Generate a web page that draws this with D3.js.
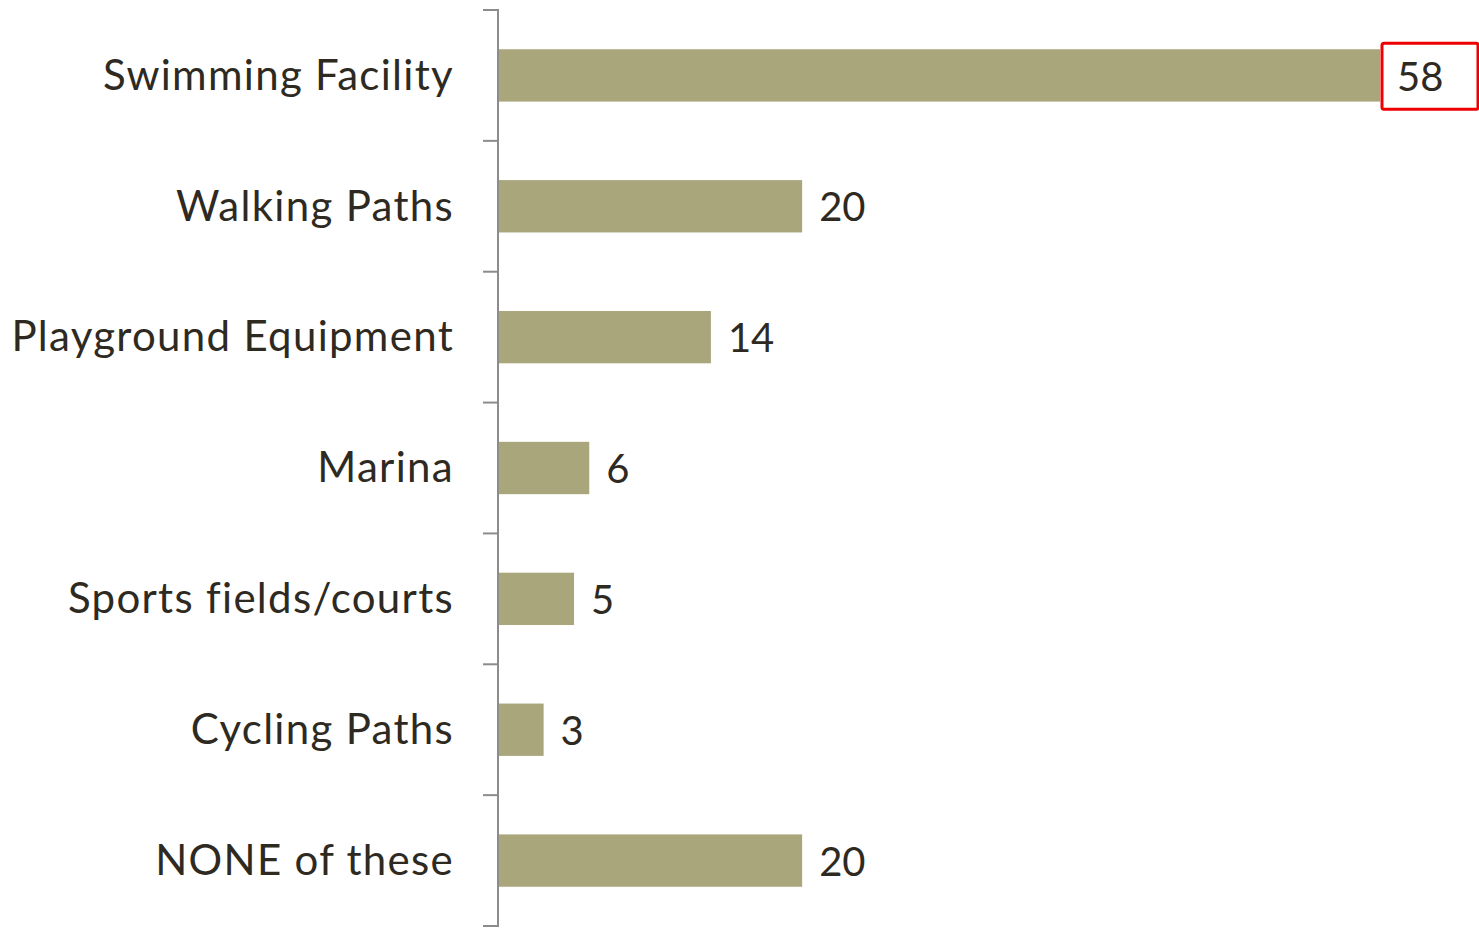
<!DOCTYPE html>
<html>
<head>
<meta charset="utf-8">
<script src="https://cdn.jsdelivr.net/npm/d3@7"></script>
<style>
  body { margin: 0; background: #fff; }
  text { font-family: Lato, "Open Sans", sans-serif; fill: #2e2a22; }
</style>
</head>
<body>
<div id="chart"></div>
<script>
const categories = ["Swimming Facility", "Walking Paths", "Playground Equipment", "Marina",
                    "Sports fields/courts", "Cycling Paths", "NONE of these"];
const values = [58, 20, 14, 6, 5, 3, 20];
const highlighted = "Swimming Facility";

const width = 1479,
    height = 929,
    margin = ({ top: 10, right: 0, bottom: 3, left: 498 });

const svg = d3.select("#chart")
    .append("svg")
    .attr("width", width)
    .attr("height", height);

const data = categories.map((c, i) => ({ name: c, value: values[i] }));

let x = d3.scaleLinear()
    .domain([0, 58])
    .range([margin.left, 1380]);

let y = d3.scaleBand()
    .domain(categories)
    .range([margin.top, height - margin.bottom])
    .paddingInner(0.6)
    .paddingOuter(0.3);

// bars
svg.selectAll("rect.bar")
    .data(data)
    .join("rect")
    .attr("class", "bar")
    .attr("x", x(0))
    .attr("y", d => y(d.name))
    .attr("width", d => x(d.value) - x(0))
    .attr("height", y.bandwidth())
    .attr("fill", "#a9a67c");

// axis with ticks at band boundaries
const bounds = categories.map(c => y(c) - y.step() * y.paddingInner() / 2);
bounds[0] = margin.top;
bounds.push(height - margin.bottom);

svg.append("line")
    .attr("x1", margin.left).attr("x2", margin.left)
    .attr("y1", margin.top).attr("y2", height - margin.bottom)
    .attr("stroke", "#8c8c8c").attr("stroke-width", 2);

svg.selectAll("line.tick")
    .data(bounds)
    .join("line")
    .attr("class", "tick")
    .attr("x1", margin.left - 15).attr("x2", margin.left + 1)
    .attr("y1", d => d).attr("y2", d => d)
    .attr("stroke", "#8c8c8c").attr("stroke-width", 2);

// category labels
svg.selectAll("text.cat")
    .data(data)
    .join("text")
    .attr("class", "cat")
    .attr("x", 454)
    .attr("y", d => y(d.name) + y.bandwidth() / 2)
    .attr("dy", "0.34em")
    .attr("text-anchor", "end")
    .style("font-size", "42px")
    .style("letter-spacing", "1.3px")
    .text(d => d.name);

// value labels
svg.selectAll("text.val")
    .data(data)
    .join("text")
    .attr("class", "val")
    .attr("x", d => x(d.value) + 17)
    .attr("y", d => y(d.name) + y.bandwidth() / 2)
    .attr("dy", "0.38em")
    .style("font-size", "40px")
    .text(d => d.value);

// red highlight box
const hd = data.find(d => d.name === highlighted);
svg.append("rect")
    .attr("x", x(hd.value) + 2)
    .attr("y", y(hd.name) - 6)
    .attr("width", 96)
    .attr("height", 66)
    .attr("rx", 2)
    .attr("fill", "none")
    .attr("stroke", "#ee0000")
    .attr("stroke-width", 3);
</script>
</body>
</html>
